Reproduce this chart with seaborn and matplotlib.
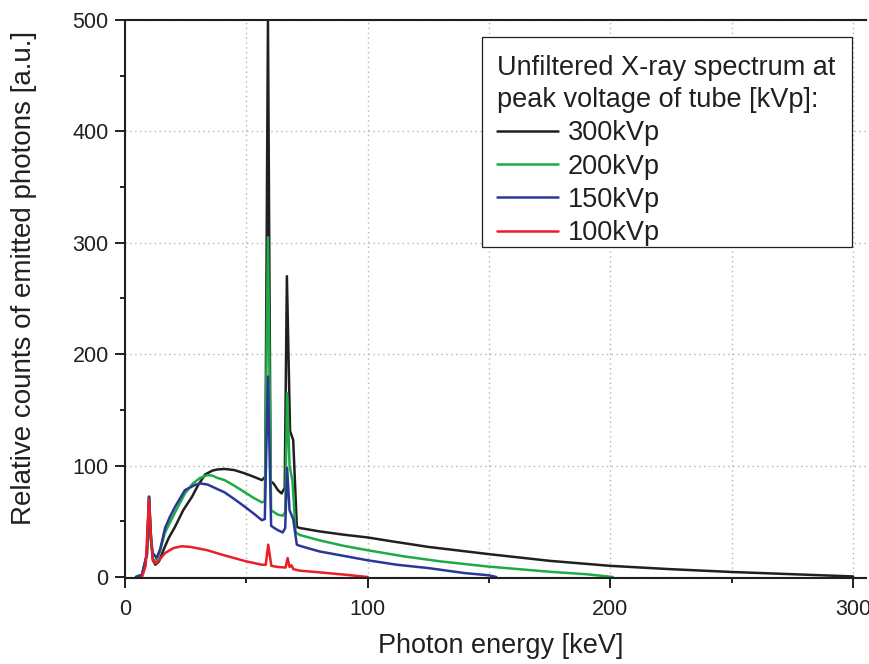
import numpy as np
import pandas as pd
import matplotlib
matplotlib.use("Agg")
import matplotlib.pyplot as plt
from matplotlib.lines import Line2D
from matplotlib.patches import Rectangle
from matplotlib.ticker import MultipleLocator
import seaborn as sns

# ---------------- data ----------------
series_names = ["300kVp", "200kVp", "150kVp", "100kVp"]
series_colors = ["#231f20", "#1eaa46", "#2a3796", "#ea1d28"]

energy_300 = [4.5, 7, 9, 9.9, 10.6, 11.5, 12.5, 14, 16, 18, 20.6, 24, 27.6, 30, 33, 36,
              38, 41, 45, 49.4, 53, 56.4, 57.8, 58.9, 60.0, 61.2, 63, 64.5, 65.8, 66.7,
              68.0, 69.3, 70.8, 72, 80, 90, 100, 110, 125, 150, 175, 200, 225, 250, 275, 300]
counts_300 = [0, 2, 20, 72, 40, 15, 11, 14, 25, 35, 45, 60, 72, 82, 92, 95.5,
              96.5, 97, 96, 93, 90, 87, 90, 500, 86, 84, 78, 75, 80, 270,
              131, 123, 45, 44, 41, 38, 35.5, 32, 27, 20.5, 14.5, 10, 7, 4.5, 2.5, 0.5]

energy_200 = [4.5, 7, 9, 9.9, 10.6, 11.5, 12.5, 14, 16.5, 20.6, 24.7, 28, 31, 34, 36, 38,
              41, 45, 49.4, 53, 56.4, 57.6, 58.9, 60.2, 61.5, 63, 65, 66.0, 66.8, 67.8,
              69.0, 70.3, 72, 80, 90, 100, 115, 130, 150, 175, 190, 201]
counts_200 = [0, 2, 20, 72, 40, 16, 14, 20, 40, 58, 75, 84, 89, 91.5, 91, 89,
              87, 82, 76, 71, 67, 68, 305, 60, 58, 56, 55, 58, 165, 100,
              86, 40, 37.7, 33, 28, 24, 18.5, 14, 9.3, 4.7, 2.5, 0]

energy_150 = [4.5, 7, 9, 9.9, 10.6, 11.3, 12, 13, 14.5, 16.5, 18.5, 20.6, 24.7, 28.8, 31,
              34, 37, 41, 45, 49.4, 53, 56.4, 57.6, 58.9, 60.2, 61.5, 63, 65, 66.0, 66.8,
              67.8, 69.3, 70.8, 72, 80, 90, 100, 112, 125, 140, 150, 153]
counts_150 = [0, 2, 20, 72, 35, 22, 20, 17, 25, 44, 54, 63, 78, 82.6, 84,
              83, 80, 76, 70, 63, 57, 51, 52, 180, 46, 44, 42, 40, 44, 98,
              60, 52, 29, 28, 23, 19, 15, 11, 8, 3.5, 1.5, 0]

energy_100 = [7, 8.5, 9.9, 10.6, 11.5, 12.5, 14, 16.5, 20, 23.4, 27, 34, 40, 45, 50,
              56.4, 58.0, 59.0, 60.3, 63, 66.2, 67.0, 67.8, 68.6, 69.4, 72, 80, 90, 100]
counts_100 = [0, 10, 70, 35, 15, 12, 15, 21.5, 26, 27.6, 27, 24, 20, 17, 14,
              11, 11, 29, 10, 9, 8.5, 17, 9, 10.5, 7, 5.7, 4.2, 2.2, 0]

x_major_ticks = [0, 100, 200, 300]
y_major_ticks = [0, 100, 200, 300, 400, 500]

legend_title = "Unfiltered X-ray spectrum at\npeak voltage of tube [kVp]:"
x_label = "Photon energy [keV]"
y_label = "Relative counts of emitted photons [a.u.]"

# ---------------- build table ----------------
frames = []
for name, e, c in zip(series_names,
                      [energy_300, energy_200, energy_150, energy_100],
                      [counts_300, counts_200, counts_150, counts_100]):
    frames.append(pd.DataFrame({"energy": e, "counts": c, "tube": name}))
df = pd.concat(frames, ignore_index=True)

# ---------------- style ----------------
sns.set_style("white")
plt.rcParams["font.family"] = ["Liberation Sans", "DejaVu Sans"]
text_color = "#231f20"

W, H = 870, 664
fig = plt.figure(figsize=(W / 100, H / 100), dpi=100)
ax = fig.add_axes([125 / W, (H - 578) / H, 741 / W, 558 / H])

sns.lineplot(data=df, x="energy", y="counts", hue="tube", hue_order=series_names,
             palette=dict(zip(series_names, series_colors)), estimator=None,
             sort=False, linewidth=1.8, legend=False, ax=ax)

ax.set_xlim(0, 305.3)
ax.set_ylim(-0.9, 500)
ax.set_xticks(x_major_ticks)
ax.set_yticks(y_major_ticks)
ax.xaxis.set_minor_locator(MultipleLocator(50))
ax.yaxis.set_minor_locator(MultipleLocator(50))

ax.tick_params(axis="both", which="major", direction="out", length=7.2, width=1.4,
               color="#231f20", labelsize=15.5, labelcolor=text_color)
ax.tick_params(axis="both", which="minor", direction="out", length=3.6, width=1.4,
               color="#231f20")
ax.tick_params(axis="x", which="major", pad=8)
ax.tick_params(axis="y", which="major", pad=4.5)
ax.tick_params(top=False, right=False, which="both")
ax.tick_params(bottom=True, left=True, which="both")

for side in ["left", "bottom", "top"]:
    ax.spines[side].set_visible(True)
    ax.spines[side].set_color("#231f20")
    ax.spines[side].set_linewidth(1.5)
ax.spines["right"].set_visible(False)

ax.set_axisbelow(True)
ax.grid(False)
ax.grid(which="both", axis="x", color="#b4b4b4", linestyle=(0, (1, 2.5)), linewidth=1.0)
ax.grid(which="major", axis="y", color="#b4b4b4", linestyle=(0, (1, 2.5)), linewidth=1.0)

ax.set_xlabel(x_label, fontsize=19.5, color=text_color)
ax.set_ylabel(y_label, fontsize=20, color=text_color)
ax.xaxis.set_label_coords(0.507, -0.0986)
ax.xaxis.label.set_va("top")
ax.yaxis.set_label_coords(-0.119, 0.5376)

# legend (content without frame, frame drawn separately to mimic asymmetric padding)
handles = [Line2D([0], [0], color=c, lw=1.8) for c in series_colors]
leg = ax.legend(handles, series_names, title=legend_title, loc="upper left",
                bbox_to_anchor=(497 / W, 1 - 55 / H), bbox_transform=fig.transFigure,
                fontsize=19.5, title_fontsize=19.5, borderpad=0, handlelength=2.27,
                handletextpad=0.33, labelspacing=0.27, borderaxespad=0,
                alignment="left", frameon=False)
leg.get_title().set_linespacing(1.3)
for t in leg.get_texts():
    t.set_color(text_color)
leg.get_title().set_color(text_color)
leg.set_zorder(6)

frame = Rectangle((482 / W, 1 - 247 / H), (852 - 482) / W, (247 - 37) / H,
                  transform=fig.transFigure, fill=True, facecolor="white",
                  edgecolor="#231f20", linewidth=0.9, zorder=5, clip_on=False)
ax.add_artist(frame)

fig.savefig("out.png", dpi=100)
